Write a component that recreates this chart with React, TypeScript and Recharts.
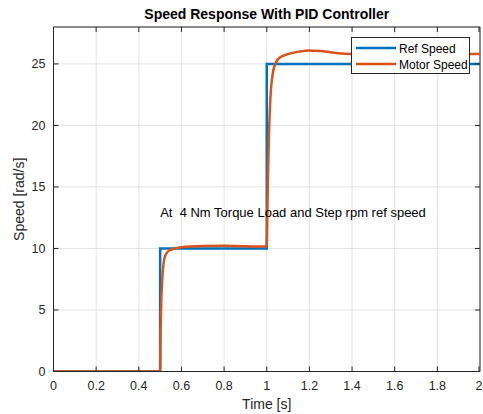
import React from 'react';
import {
  LineChart, Line, XAxis, YAxis, CartesianGrid, Legend, ReferenceArea, ReferenceDot,
} from 'recharts';

// reference step (rad/s)
const refTime = [0, 0.5, 0.5, 1.0, 1.0, 2.0];
const refSpeed = [0, 0, 10, 10, 25, 25];

// motor response
const motorTime = [0, 0.5, 0.502, 0.505, 0.51, 0.515, 0.52, 0.53, 0.54, 0.56, 0.6, 0.7, 0.8, 0.9, 1.0,
  1.003, 1.006, 1.01, 1.015, 1.02, 1.03, 1.04, 1.06, 1.1, 1.15, 1.2, 1.25, 1.3, 1.35, 1.4, 1.5, 1.6, 1.8, 2.0];
const motorSpeed = [0, 0, 3, 5.5, 7.5, 8.6, 9.2, 9.6, 9.8, 9.95, 10.1, 10.2, 10.22, 10.18, 10.15,
  13, 16, 19, 21.5, 23, 24.4, 25, 25.5, 25.8, 26.0, 26.1, 26.05, 25.95, 25.85, 25.8, 25.75, 25.78, 25.8, 25.8];

const xTicks = [0, 0.2, 0.4, 0.6, 0.8, 1, 1.2, 1.4, 1.6, 1.8, 2];
const yTicks = [0, 5, 10, 15, 20, 25];

const seriesNames = ['Ref Speed', 'Motor Speed'];
const seriesColors = ['#0072BD', '#D95319'];

const note = 'At  4 Nm Torque Load and Step rpm ref speed';

const refData = refTime.map((t, i) => ({ t, v: refSpeed[i] }));
const motorData = motorTime.map((t, i) => ({ t, v: motorSpeed[i] }));

const W = 483;
const H = 414;
const FONT = '"Liberation Sans", Arial, sans-serif';
const AXIS = '#262626';

// plot box, used for the inward tick marks only
const PL = 53.5, PR = 480, PT = 27, PB = 371.5;

const XTick = (p: any) => (
  <g>
    <line x1={p.x} x2={p.x} y1={PB} y2={PB - 5} stroke={AXIS} />
    <line x1={p.x} x2={p.x} y1={PT} y2={PT + 5} stroke={AXIS} />
    <text x={p.x} y={p.y} dy={10} textAnchor="middle" fontSize={12.5} fill={AXIS} fontFamily={FONT}>
      {String(p.payload.value)}
    </text>
  </g>
);

const YTick = (p: any) => (
  <g>
    <line x1={PL} x2={PL + 5} y1={p.y} y2={p.y} stroke={AXIS} />
    <line x1={PR} x2={PR - 5} y1={p.y} y2={p.y} stroke={AXIS} />
    <text x={p.x} y={p.y} dy={4.5} textAnchor="end" fontSize={12.5} fill={AXIS} fontFamily={FONT}>
      {String(p.payload.value)}
    </text>
  </g>
);

const NoteLabel = (p: any) => {
  const vb = p.viewBox || {};
  return (
    <text x={vb.x} y={(vb.y || 0) + 4.5} fontSize={13} fill="#000" fontFamily={FONT} style={{ whiteSpace: 'pre' }}>
      {note}
    </text>
  );
};

const LegendBox = () => (
  <svg width={119} height={37} style={{ display: 'block' }}>
    <rect x={0.5} y={0.5} width={118} height={36} fill="#fff" stroke="#262626" />
    {seriesNames.map((n, i) => (
      <g key={n}>
        <line x1={5} x2={45} y1={11 + i * 16} y2={11 + i * 16} stroke={seriesColors[i]} strokeWidth={2.5} />
        <text x={48} y={15.5 + i * 16} fontSize={12} fill="#000" fontFamily={FONT}>{n}</text>
      </g>
    ))}
  </svg>
);

export default function App() {
  return (
    <div style={{ position: 'absolute', left: 0, top: 0, width: W, height: H, background: '#fff', fontFamily: FONT }}>
      <div style={{ position: 'absolute', left: PL, width: PR - PL, top: 6, textAlign: 'center', fontSize: 14, fontWeight: 'bold', color: '#000' }}>
        Speed Response With PID Controller
      </div>
      <LineChart width={W} height={H} margin={{ top: 27, right: 3, bottom: 17.5, left: 23.5 }}>
        <CartesianGrid stroke="#e3e3e3" strokeWidth={1} />
        <XAxis
          type="number"
          dataKey="t"
          domain={[0, 2]}
          ticks={xTicks}
          allowDataOverflow
          height={25}
          stroke={AXIS}
          tickLine={false}
          tick={<XTick />}
          label={{ value: 'Time [s]', position: 'insideBottom', offset: -12, fontSize: 14, fill: AXIS, fontFamily: FONT }}
        />
        <YAxis
          type="number"
          dataKey="v"
          domain={[0, 28]}
          ticks={yTicks}
          allowDataOverflow
          width={30}
          stroke={AXIS}
          tickLine={false}
          tick={<YTick />}
          label={{ value: 'Speed [rad/s]', angle: -90, position: 'insideLeft', offset: -4, fontSize: 14, fill: AXIS, fontFamily: FONT, style: { textAnchor: 'middle' } }}
        />
        <ReferenceArea x1={0} x2={2} y1={0} y2={28} fill="none" stroke={AXIS} strokeWidth={1} ifOverflow="visible" />
        <Line data={refData} dataKey="v" name={seriesNames[0]} type="linear" stroke={seriesColors[0]} strokeWidth={2.5} dot={false} isAnimationActive={false} />
        <Line data={motorData} dataKey="v" name={seriesNames[1]} type="monotone" stroke={seriesColors[1]} strokeWidth={2.5} dot={false} isAnimationActive={false} />
        <ReferenceDot
          x={0.5}
          y={12.9}
          r={0}
          ifOverflow="visible"
          label={<NoteLabel />}
        />
        <Legend
          layout="vertical"
          align="center"
          verticalAlign="middle"
          content={<LegendBox />}
          wrapperStyle={{ position: 'absolute', left: 351, top: 37, width: 119, height: 37 }}
        />
      </LineChart>
    </div>
  );
}
